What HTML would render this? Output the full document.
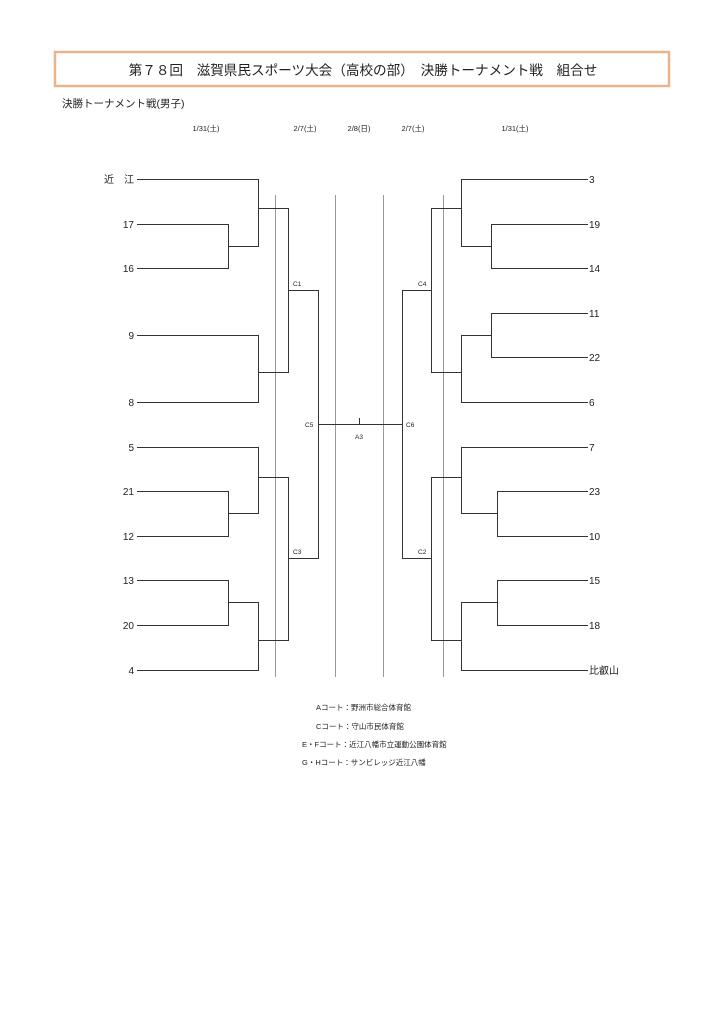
<!DOCTYPE html>
<html><head><meta charset="utf-8"><style>
html,body{margin:0;padding:0;background:#fff;}
svg{display:block;}
text{font-family:"Liberation Sans","Noto Sans CJK JP",sans-serif;fill:#222;}
</style></head><body>
<svg width="724" height="1024" viewBox="0 0 724 1024" xmlns="http://www.w3.org/2000/svg">
<rect x="55" y="52" width="614" height="34" fill="#fff" stroke="#e9b48a" stroke-width="2.5"/>
<text x="363" y="75" font-size="13.6" text-anchor="middle">第７８回　滋賀県民スポーツ大会（高校の部）　決勝トーナメント戦　組合せ</text>
<text x="62" y="107" font-size="10.5">決勝トーナメント戦(男子)</text>
<g font-size="7.5" text-anchor="middle">
<text x="206" y="131">1/31(土)</text>
<text x="305" y="131">2/7(土)</text>
<text x="359" y="131">2/8(日)</text>
<text x="413" y="131">2/7(土)</text>
<text x="515" y="131">1/31(土)</text>
</g>
<g stroke="#999" stroke-width="1">
<line x1="275.5" y1="195" x2="275.5" y2="677"/>
<line x1="335.5" y1="195" x2="335.5" y2="677"/>
<line x1="383.5" y1="195" x2="383.5" y2="677"/>
<line x1="443.5" y1="195" x2="443.5" y2="677"/>
</g>
<g stroke="#333" stroke-width="1" fill="none">
<path d="M137 179.5H258.5V246.5H228.5"/>
<path d="M137 224.5H228.5V268.5H137"/>
<path d="M258.5 208.5H288.5V372.5H258.5"/>
<path d="M137 335.5H258.5V402.5H137"/>
<path d="M288.5 290.5H318.5V558.5H288.5"/>
<path d="M137 447.5H258.5V513.5H228.5"/>
<path d="M137 491.5H228.5V536.5H137"/>
<path d="M258.5 477.5H288.5V640.5H258.5"/>
<path d="M137 580.5H228.5V625.5H137"/>
<path d="M228.5 602.5H258.5V670.5H137"/>
<path d="M318.5 424.5H402.5"/>
<path d="M359.5 418V424.5"/>
<path d="M588 179.5H461.5V246.5H491.5"/>
<path d="M588 224.5H491.5V268.5H588"/>
<path d="M461.5 208.5H431.5V372.5H461.5"/>
<path d="M588 313.5H491.5V357.5H588"/>
<path d="M491.5 335.5H461.5V402.5H588"/>
<path d="M431.5 290.5H402.5V558.5H431.5"/>
<path d="M588 447.5H461.5V513.5H497.5"/>
<path d="M588 491.5H497.5V536.5H588"/>
<path d="M461.5 477.5H431.5V640.5H461.5"/>
<path d="M588 580.5H497.5V625.5H588"/>
<path d="M497.5 602.5H461.5V670.5H588"/>
</g>
<g font-size="10" text-anchor="end">
<text x="134" y="183">近　江</text>
<text x="134" y="228">17</text>
<text x="134" y="272">16</text>
<text x="134" y="339">9</text>
<text x="134" y="406">8</text>
<text x="134" y="451">5</text>
<text x="134" y="495">21</text>
<text x="134" y="540">12</text>
<text x="134" y="584">13</text>
<text x="134" y="629">20</text>
<text x="134" y="674">4</text>
</g>
<g font-size="10">
<text x="589" y="183">3</text>
<text x="589" y="228">19</text>
<text x="589" y="272">14</text>
<text x="589" y="317">11</text>
<text x="589" y="361">22</text>
<text x="589" y="406">6</text>
<text x="589" y="451">7</text>
<text x="589" y="495">23</text>
<text x="589" y="540">10</text>
<text x="589" y="584">15</text>
<text x="589" y="629">18</text>
<text x="589" y="674">比叡山</text>
</g>
<g font-size="6.5">
<text x="293" y="286">C1</text>
<text x="293" y="554">C3</text>
<text x="305" y="427">C5</text>
<text x="418" y="286">C4</text>
<text x="418" y="554">C2</text>
<text x="406" y="427">C6</text>
<text x="355" y="439">A3</text>
</g>
<g font-size="7.5">
<text x="316" y="710">Aコート：野洲市総合体育館</text>
<text x="316" y="729">Cコート：守山市民体育館</text>
<text x="302" y="747">E・Fコート：近江八幡市立運動公園体育館</text>
<text x="302" y="765">G・Hコート：サンビレッジ近江八幡</text>
</g>
</svg>
</body></html>
